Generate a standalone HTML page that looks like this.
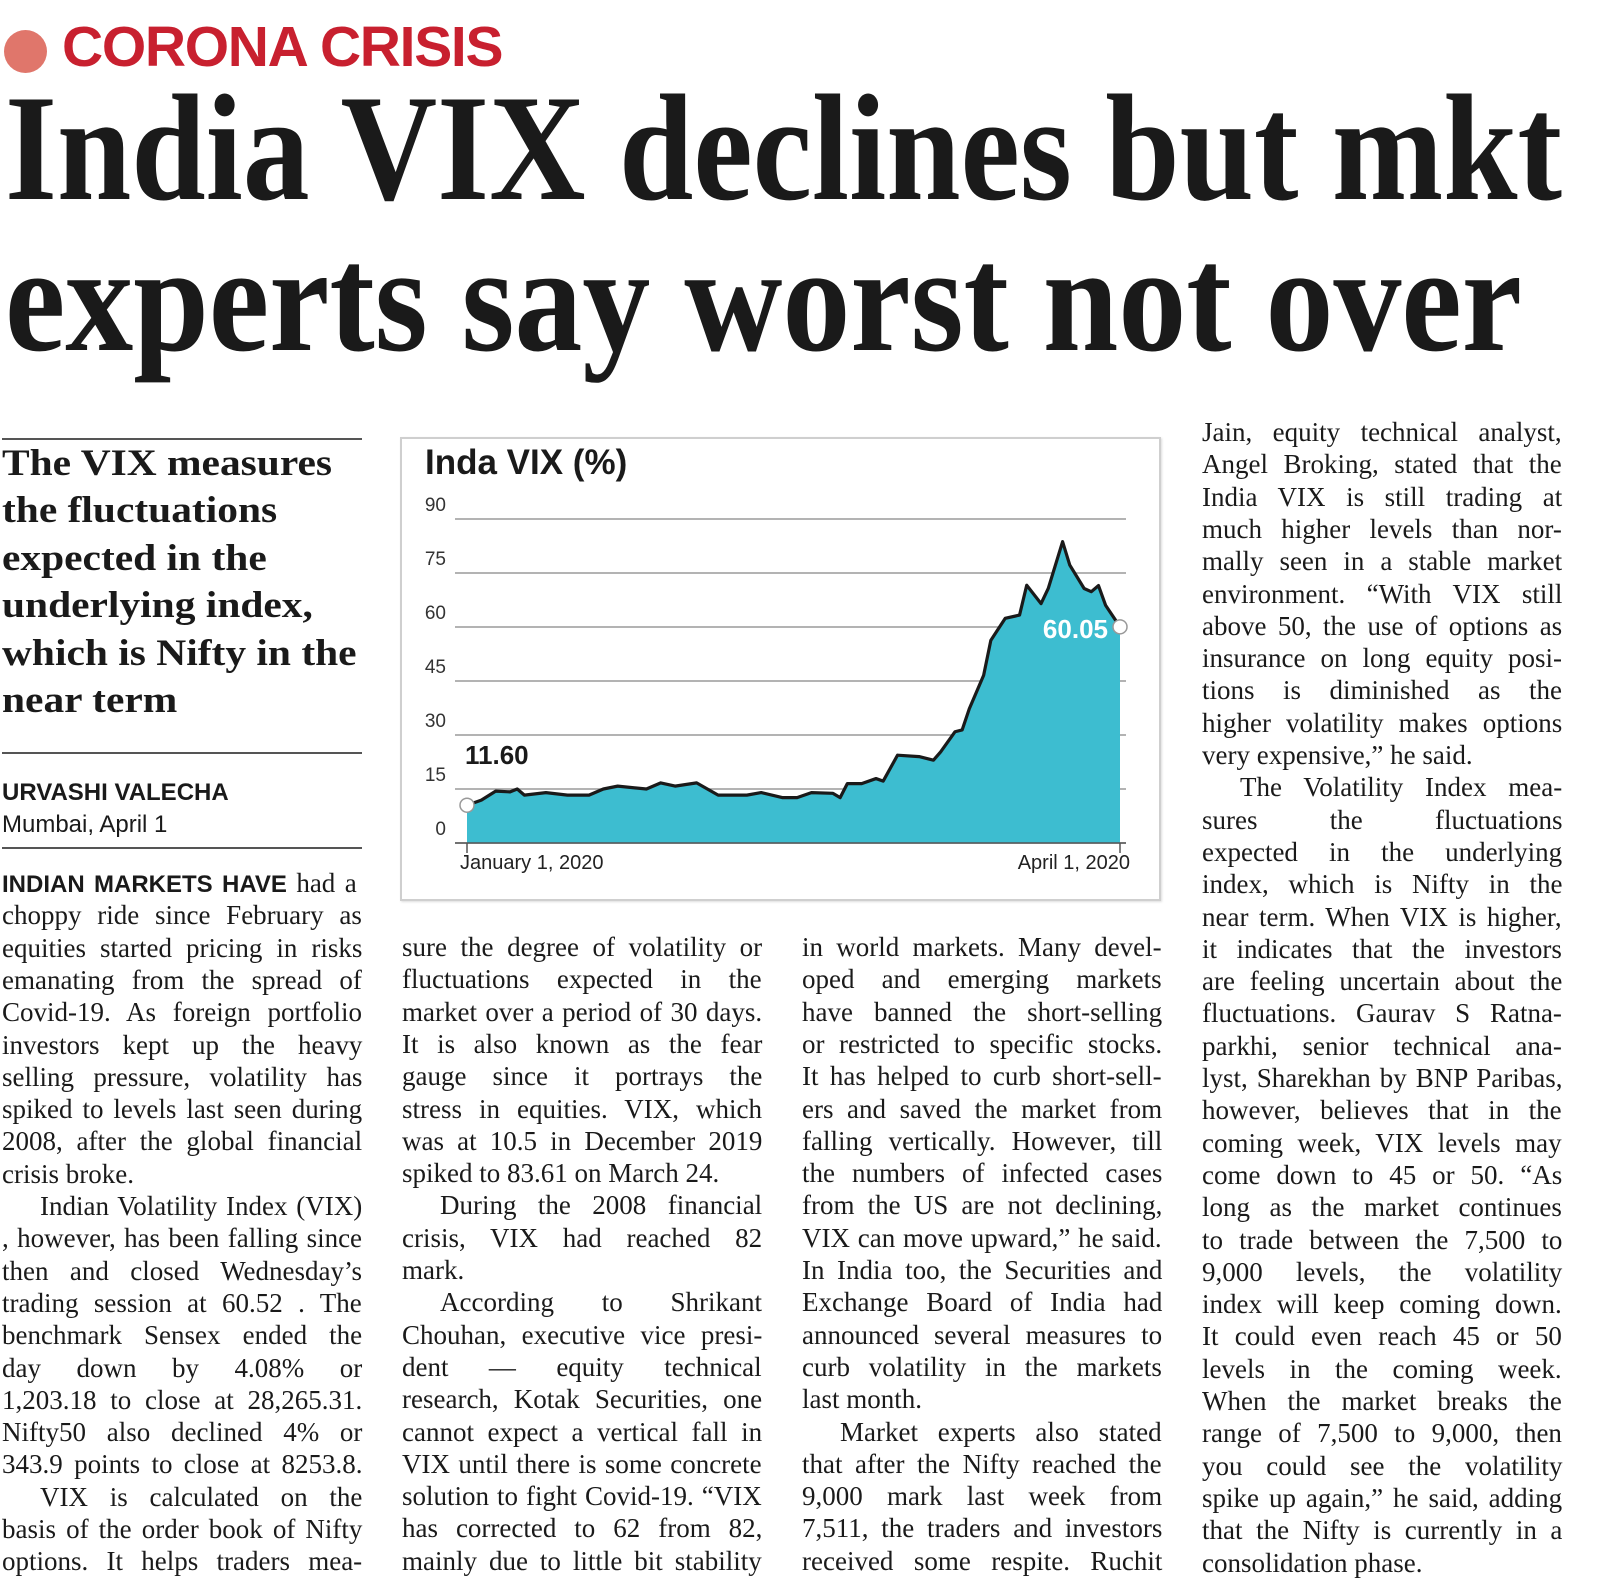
<!DOCTYPE html>
<html><head><meta charset="utf-8">
<style>
html,body{margin:0;padding:0;background:#fff;}
body{width:1600px;height:1574px;position:relative;overflow:hidden;font-family:"Liberation Serif",serif;color:#1a1a1a;}
.abs{position:absolute;}
.ln{position:absolute;white-space:nowrap;font-family:"Liberation Serif",serif;font-size:27px;line-height:32px;transform-origin:0 0;}
.rule{position:absolute;height:2px;background:#555;}
</style></head>
<body>
<div class="abs" style="left:4px;top:30px;width:43px;height:43px;border-radius:50%;background:#e0766b;"></div>
<div class="abs" style="left:62px;top:14px;font-family:'Liberation Sans',sans-serif;font-weight:bold;font-size:57px;line-height:66px;color:#c8202f;letter-spacing:-1.3px;">CORONA CRISIS</div>

<svg class="abs" style="left:0;top:0" width="1600" height="420">
<text x="5" y="199" font-family="Liberation Serif, serif" font-weight="bold" font-size="152" fill="#1a1a1a" textLength="1557" lengthAdjust="spacingAndGlyphs">India VIX declines but mkt</text>
<text x="5" y="350" font-family="Liberation Serif, serif" font-weight="bold" font-size="152" fill="#1a1a1a" textLength="1517" lengthAdjust="spacingAndGlyphs">experts say worst not over</text>
</svg>

<div class="rule" style="left:2px;top:438px;width:360px;"></div>
<div class="abs" style="left:2px;top:440px;width:370px;font-weight:bold;font-size:37px;line-height:47.4px;transform:scaleX(1.12);transform-origin:0 0;white-space:nowrap;">The VIX measures<br>the fluctuations<br>expected in the<br>underlying index,<br>which is Nifty in the<br>near term</div>
<div class="rule" style="left:2px;top:752px;width:360px;"></div>
<div class="abs" style="left:2px;top:779px;font-family:'Liberation Sans',sans-serif;font-weight:bold;font-size:24px;line-height:28px;">URVASHI VALECHA</div>
<div class="abs" style="left:2px;top:811px;font-family:'Liberation Sans',sans-serif;font-size:24px;line-height:28px;">Mumbai, April 1</div>
<div class="rule" style="left:2px;top:847px;width:360px;"></div>

<div class="abs" style="left:400px;top:437px;width:757px;height:460px;border:2px solid #cfcfcf;box-shadow:1px 1px 2px #ddd;"></div>
<svg id="chart" class="abs" style="left:0;top:0" width="1600" height="1574"></svg>

<div id="text"></div>

<script>
const tickValues=[0,15,30,45,60,75,90];
const dayIndex=[0,2,4,6,7,8,11,14,17,19,21,25,27,29,32,35,39,41,44,46,48,51,52,53,55,57,58,60,63,65,66,68,69,70,72,73,75,77,78,80,81,83,84,86,87,88,89,91];
const vixValues=[10.5,11.9,14.4,14.2,15,13.3,14,13.3,13.3,15,15.8,15,16.7,15.8,16.7,13.3,13.3,14,12.6,12.6,14,13.8,12.6,16.5,16.5,17.9,17.2,24.4,24,23,25.3,30.9,31.4,37.3,46.6,56.3,62.4,63.3,71.6,66.5,70.7,83.7,77.2,70.7,69.8,71.5,66,60.05];
const startLabel="11.60";
const endLabel="60.05";
const xLabels=["January 1, 2020","April 1, 2020"];

const NS="http://www.w3.org/2000/svg";
const svg=document.getElementById('chart');
const X0=467,X1=1120,Y0=843,Y90=519,DMAX=91;
function xs(d){return X0+(X1-X0)*d/DMAX;}
function ys(v){return Y0-(Y0-Y90)*v/90;}
function mk(tag,attrs){const e=document.createElementNS(NS,tag);for(const k in attrs)e.setAttribute(k,attrs[k]);svg.appendChild(e);return e;}

const title=mk('text',{x:425,y:474,'font-family':'Liberation Sans, sans-serif','font-weight':'bold','font-size':35,fill:'#1a1a1a'});
title.textContent='Inda VIX (%)';



tickValues.forEach(v=>{
  const g=mk('line',{x1:455,x2:1126,y1:ys(v),y2:ys(v),stroke:'#9a9a9a','stroke-width':1.5});
  
  
  const t=mk('text',{x:446,y:ys(v)-8,'text-anchor':'end','font-family':'Liberation Sans, sans-serif','font-size':19,fill:'#333'});
  t.textContent=v;
  
  
});

let d='M'+xs(dayIndex[0])+','+ys(0);
let l='';
dayIndex.forEach((dd,i)=>{d+=' L'+xs(dd)+','+ys(vixValues[i]);l+=(i?' L':'M')+xs(dd)+','+ys(vixValues[i]);});
d+=' L'+xs(dayIndex[dayIndex.length-1])+','+ys(0)+' Z';
const area=mk('path',{d:d,fill:'#3dbdd0'});


const line=mk('path',{d:l,fill:'none',stroke:'#1a1a1a','stroke-width':3.2,'stroke-linejoin':'round'});



const ax=mk('line',{x1:455,x2:1126,y1:Y0,y2:Y0,stroke:'#555','stroke-width':1.5});


[dayIndex[0],dayIndex[dayIndex.length-1]].forEach(dd=>{
  const tk=mk('line',{x1:xs(dd),x2:xs(dd),y1:Y0,y2:Y0+10,stroke:'#555','stroke-width':1.5});
  
  
});
const xl1=mk('text',{x:460,y:869,'font-family':'Liberation Sans, sans-serif','font-size':20,fill:'#222'});
xl1.textContent=xLabels[0];


const xl2=mk('text',{x:1130,y:869,'text-anchor':'end','font-family':'Liberation Sans, sans-serif','font-size':20,fill:'#222'});
xl2.textContent=xLabels[1];



const p0=mk('circle',{cx:xs(dayIndex[0]),cy:ys(vixValues[0]),r:7,fill:'#fff',stroke:'#999','stroke-width':1.5});


const p1=mk('circle',{cx:xs(dayIndex[dayIndex.length-1]),cy:ys(vixValues[vixValues.length-1]),r:7,fill:'#fff',stroke:'#999','stroke-width':1.5});


const sl=mk('text',{x:465,y:764,'font-family':'Liberation Sans, sans-serif','font-weight':'bold','font-size':26,fill:'#1a1a1a'});
sl.textContent=startLabel;


const el=mk('text',{x:1108,y:638,'text-anchor':'end','font-family':'Liberation Sans, sans-serif','font-weight':'bold','font-size':26,fill:'#fff'});
el.textContent=endLabel;



const cols=[
 {x:2,w:360,y:892,h:32.3,lines:[
 ["<b style=\"font-family:'Liberation Sans',sans-serif;font-size:24px\">INDIAN MARKETS HAVE</b> had a","j"],
 ["choppy ride since February as","j"],["equities started pricing in risks","j"],["emanating from the spread of","j"],["Covid-19. As foreign portfolio","j"],["investors kept up the heavy","j"],["selling pressure, volatility has","j"],["spiked to levels last seen during","j"],["2008, after the global financial","j"],["crisis broke.","l"],
 ["Indian Volatility Index (VIX)","i"],[", however, has been falling since","j"],["then and closed Wednesday’s","j"],["trading session at 60.52 . The","j"],["benchmark Sensex ended the","j"],["day down by 4.08% or","j"],["1,203.18 to close at 28,265.31.","j"],["Nifty50 also declined 4% or","j"],["343.9 points to close at 8253.8.","j"],
 ["VIX is calculated on the","i"],["basis of the order book of Nifty","j"],["options. It helps traders mea-","j"]]},
 {x:402,w:360,y:956,h:32.3,lines:[
 ["sure the degree of volatility or","j"],["fluctuations expected in the","j"],["market over a period of 30 days.","j"],["It is also known as the fear","j"],["gauge since it portrays the","j"],["stress in equities. VIX, which","j"],["was at 10.5 in December 2019","j"],["spiked to 83.61 on March 24.","l"],
 ["During the 2008 financial","i"],["crisis, VIX had reached 82","j"],["mark.","l"],
 ["According to Shrikant","i"],["Chouhan, executive vice presi-","j"],["dent — equity technical","j"],["research, Kotak Securities, one","j"],["cannot expect a vertical fall in","j"],["VIX until there is some concrete","j"],["solution to fight Covid-19. “VIX","j"],["has corrected to 62 from 82,","j"],["mainly due to little bit stability","j"]]},
 {x:802,w:360,y:956,h:32.3,lines:[
 ["in world markets. Many devel-","j"],["oped and emerging markets","j"],["have banned the short-selling","j"],["or restricted to specific stocks.","j"],["It has helped to curb short-sell-","j"],["ers and saved the market from","j"],["falling vertically. However, till","j"],["the numbers of infected cases","j"],["from the US are not declining,","j"],["VIX can move upward,” he said.","j"],["In India too, the Securities and","j"],["Exchange Board of India had","j"],["announced several measures to","j"],["curb volatility in the markets","j"],["last month.","l"],
 ["Market experts also stated","i"],["that after the Nifty reached the","j"],["9,000 mark last week from","j"],["7,511, the traders and investors","j"],["received some respite. Ruchit","j"]]},
 {x:1202,w:360,y:441,h:32.3,lines:[
 ["Jain, equity technical analyst,","j"],["Angel Broking, stated that the","j"],["India VIX is still trading at","j"],["much higher levels than nor-","j"],["mally seen in a stable market","j"],["environment. “With VIX still","j"],["above 50, the use of options as","j"],["insurance on long equity posi-","j"],["tions is diminished as the","j"],["higher volatility makes options","j"],["very expensive,” he said.","l"],
 ["The Volatility Index mea-","i"],["sures the fluctuations","j"],["expected in the underlying","j"],["index, which is Nifty in the","j"],["near term. When VIX is higher,","j"],["it indicates that the investors","j"],["are feeling uncertain about the","j"],["fluctuations. Gaurav S Ratna-","j"],["parkhi, senior technical ana-","j"],["lyst, Sharekhan by BNP Paribas,","j"],["however, believes that in the","j"],["coming week, VIX levels may","j"],["come down to 45 or 50. “As","j"],["long as the market continues","j"],["to trade between the 7,500 to","j"],["9,000 levels, the volatility","j"],["index will keep coming down.","j"],["It could even reach 45 or 50","j"],["levels in the coming week.","j"],["When the market breaks the","j"],["range of 7,500 to 9,000, then","j"],["you could see the volatility","j"],["spike up again,” he said, adding","j"],["that the Nifty is currently in a","j"],["consolidation phase.","l"]]}
];
const host=document.getElementById('text');
cols.forEach((c,ci)=>{
  c.lines.forEach((ln,i)=>{
    const div=document.createElement('div');
    div.className='ln';
    
    
    const ind=ln[1]==='i'?38:0;
    div.style.left=(c.x+ind)+'px';
    div.style.top=(c.y+i*c.h-25)+'px';
    div.innerHTML=ln[0];
    host.appendChild(div);
    const target=c.w-ind;
    const nat=div.scrollWidth;
    if(ln[1]==='l'){
      if(nat>target)div.style.transform='scaleX('+(target/nat)+')';
    }else{
      const words=ln[0].split(' ').length-1;
      if(nat>target){div.style.transform='scaleX('+(target/nat)+')';}
      else if(words>0){div.style.wordSpacing=((target-nat)/words)+'px';}
    }
  });
});
</script>
</body></html>
